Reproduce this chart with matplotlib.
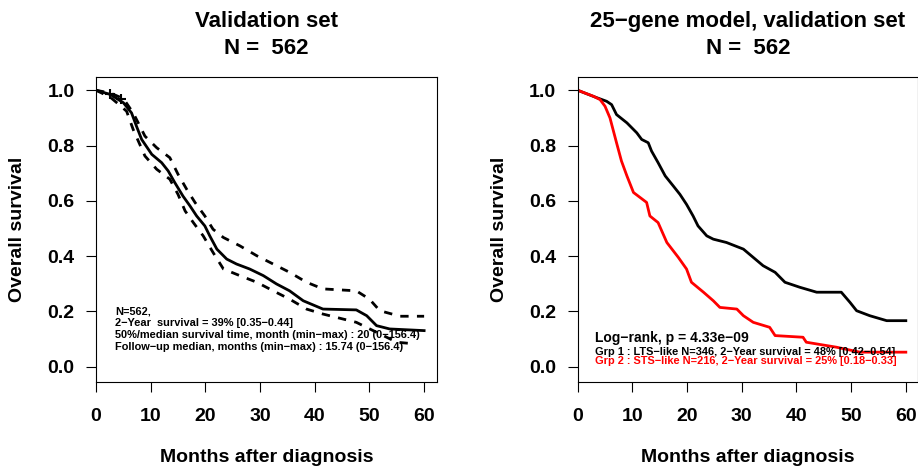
import numpy as np
import matplotlib.pyplot as plt

plt.rcParams['font.family'] = ['Liberation Sans', 'DejaVu Sans']
plt.rcParams['font.weight'] = 'bold'

# overall KM curve, validation set (months, survival)
all_t = [0, 2.6, 5.0, 6.5, 7.4, 8.35, 10.2, 12.0, 13.2, 14.4, 15.9, 17.2, 18.4,
         19.9, 20.8, 22.1, 23.9, 25.7, 28.1, 30.6, 33.0, 35.4, 37.9, 41.5, 47.6,
         49.5, 51.3, 53.7, 60]
all_s = [1.0, 0.985, 0.955, 0.918, 0.87, 0.822, 0.768, 0.738, 0.708, 0.666, 0.617,
         0.581, 0.545, 0.509, 0.473, 0.425, 0.389, 0.371, 0.353, 0.329, 0.299,
         0.274, 0.238, 0.208, 0.205, 0.184, 0.148, 0.136, 0.13]

up_t = [0, 2.6, 5.0, 6.8, 8.95, 11.1, 13.5, 15.0, 16.6, 18.1, 19.9, 21.4, 23.3,
        26.3, 29.4, 32.4, 35.4, 38.5, 41.5, 47.6, 50.0, 51.9, 55.6, 60]
up_s = [1.0, 0.99, 0.97, 0.918, 0.834, 0.792, 0.756, 0.696, 0.641, 0.594, 0.545,
        0.497, 0.467, 0.437, 0.401, 0.371, 0.341, 0.305, 0.281, 0.274, 0.244,
        0.202, 0.182, 0.182]

lo_t = [0, 2.6, 4.4, 5.6, 6.8, 8.95, 11.1, 13.5, 15.0, 16.3, 17.8, 19.6, 21.4,
        23.3, 26.3, 29.4, 32.4, 35.4, 38.5, 41.5, 47.6, 51.3, 55.0, 58.3]
lo_s = [1.0, 0.975, 0.945, 0.924, 0.858, 0.762, 0.714, 0.678, 0.623, 0.563,
        0.521, 0.473, 0.413, 0.353, 0.329, 0.305, 0.274, 0.244, 0.208, 0.190,
        0.160, 0.124, 0.088, 0.082]

cens_t = [2.6, 4.6]
cens_s = [0.985, 0.97]

# 25-gene model groups
g1_t = [0, 3.5, 5.3, 6.2, 7.1, 9.0, 10.8, 11.7, 12.9, 13.5, 14.7, 16.0, 17.5,
        18.7, 19.9, 21.1, 22.0, 23.6, 24.8, 27.2, 30.3, 32.1, 33.9, 36.1, 37.9,
        40.6, 43.7, 48.2, 49.8, 51.0, 53.4, 56.5, 60]
g1_s = [1.0, 0.973, 0.96, 0.948, 0.912, 0.882, 0.846, 0.822, 0.81, 0.78, 0.738,
        0.69, 0.653, 0.623, 0.587, 0.545, 0.509, 0.473, 0.461, 0.449, 0.425,
        0.395, 0.365, 0.341, 0.305, 0.287, 0.269, 0.269, 0.232, 0.202, 0.184,
        0.166, 0.166]

g2_t = [0, 2.9, 4.1, 5.0, 5.9, 7.1, 8.0, 9.0, 10.2, 12.6, 13.2, 14.7, 16.3,
        18.4, 19.9, 20.8, 23.0, 24.8, 26.0, 29.1, 30.3, 32.1, 35.1, 36.1, 41.2,
        41.8, 47.3, 51.6, 60]
g2_s = [1.0, 0.978, 0.966, 0.942, 0.9, 0.81, 0.744, 0.69, 0.63, 0.594, 0.545,
        0.521, 0.449, 0.395, 0.353, 0.305, 0.269, 0.238, 0.214, 0.208, 0.184,
        0.16, 0.142, 0.112, 0.106, 0.088, 0.07, 0.052, 0.052]

left_notes = ["N=562,",
              "2\u2212Year  survival = 39% [0.35\u22120.44]",
              "50%/median survival time, month (min\u2212max) : 20 (0\u2212156.4)",
              "Follow\u2212up median, months (min\u2212max) : 15.74 (0\u2212156.4)"]
logrank = "Log\u2212rank, p = 4.33e\u221209"
grp_notes = ["Grp 1 : LTS\u2212like N=346, 2\u2212Year survival = 48% [0.42\u22120.54]",
             "Grp 2 : STS\u2212like N=216, 2\u2212Year survival = 25% [0.18\u22120.33]"]
grp_colors = ["black", "red"]


def style_axes(ax, title):
    ax.set_xlim(0, 62.3)
    ax.set_ylim(-0.056, 1.048)
    ax.set_xticks([0, 10, 20, 30, 40, 50, 60])
    ax.set_yticks([0.0, 0.2, 0.4, 0.6, 0.8, 1.0])
    ax.set_yticklabels(["0.0", "0.2", "0.4", "0.6", "0.8", "1.0"])
    ax.tick_params(axis='x', length=7.5, width=0.8, pad=11, labelsize=14)
    ax.tick_params(axis='y', length=7.5, width=0.8, pad=8, labelsize=14)
    for sp in ax.spines.values():
        sp.set_linewidth(0.8)
    ax.set_xlabel("Months after diagnosis", fontsize=14, fontweight='bold', labelpad=17.5)
    ax.set_ylabel("Overall survival", fontsize=14, fontweight='bold', labelpad=15.5)
    ax.text(0.5, 1.0 + 50 / 306, title, transform=ax.transAxes, ha='center',
            va='baseline', fontsize=16, fontweight='bold')
    ax.text(0.5, 1.0 + 23 / 306, "N =  562", transform=ax.transAxes, ha='center',
            va='baseline', fontsize=16, fontweight='bold')


fig = plt.figure(figsize=(9.18, 4.70), dpi=100)
ax1 = fig.add_axes([96 / 918, 1 - 382 / 470, 340.7 / 918, 305 / 470])
ax2 = fig.add_axes([577.7 / 918, 1 - 382 / 470, 340.7 / 918, 305 / 470])

# left panel
ax1.plot(all_t, all_s, color='black', lw=2)
ax1.plot(up_t, up_s, color='black', lw=2, dashes=(3, 3))
ax1.plot(lo_t, lo_s, color='black', lw=2, dashes=(3, 3))
ax1.plot(cens_t, cens_s, '+', color='black', ms=7, mew=1.5)
for i, s in enumerate(left_notes):
    ax1.text(3.5, 0.198 - i * 0.042, s, fontsize=7.9, fontweight='bold', va='center')
style_axes(ax1, "Validation set")

# right panel
ax2.plot(g1_t, g1_s, color=grp_colors[0], lw=2)
ax2.plot(g2_t, g2_s, color=grp_colors[1], lw=2)
ax2.text(3.2, 0.103, logrank, fontsize=10, fontweight='bold', va='center')
for i, s in enumerate(grp_notes):
    ax2.text(3.2, 0.052 - i * 0.032, s, fontsize=7.9, fontweight='bold',
             va='center', color=grp_colors[i])
style_axes(ax2, "25\u2212gene model, validation set")

fig.savefig("out.png", dpi=100)
